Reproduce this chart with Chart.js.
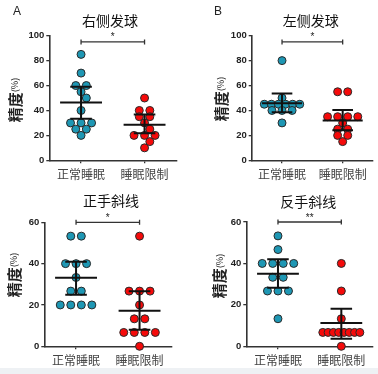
<!DOCTYPE html>
<html>
<head>
<meta charset="utf-8">
<script src="https://cdn.jsdelivr.net/npm/chart.js@4.4.1/dist/chart.umd.min.js"></script>
<style>
  html, body { margin: 0; padding: 0; background: #eef1f4; }
  #wrap  { position: relative; width: 378px; height: 374px; background: #eef1f4; overflow: hidden; }
  #sheet { position: absolute; left: 0; top: 0; width: 378px; height: 368px; background: #ffffff; }
  canvas { position: absolute; }
</style>
</head>
<body>
<div id="wrap">
  <div id="sheet"></div>
  <canvas id="chartA" width="189" height="187" style="left:0px;top:0px"></canvas>
  <canvas id="chartB" width="189" height="187" style="left:189px;top:0px"></canvas>
  <canvas id="chartC" width="189" height="187" style="left:0px;top:187px"></canvas>
  <canvas id="chartD" width="189" height="187" style="left:189px;top:187px"></canvas>
</div>
<script>
// ---------- DATA
var categories   = ['正常睡眠', '睡眠限制'];
var panelTitles  = ['右侧发球', '左侧发球', '正手斜线', '反手斜线'];
var panelLetters = ['A', 'B', '', ''];
var yMaxValues   = [100, 100, 60, 60];
var sigMarks     = ['*', '*', '*', '**'];
var sigLevels    = [95, 95, 60, 60];

// accuracy (%) per subject
var rightServeNormal     = [85, 70, 60, 60, 55, 50, 40, 30, 30, 30, 25, 25, 20];
var rightServeRestricted = [50, 40, 40, 35, 35, 30, 25, 20, 20, 20, 15, 10];
var leftServeNormal      = [80, 50, 45, 45, 45, 45, 45, 45, 40, 40, 40, 30];
var leftServeRestricted  = [55, 55, 35, 35, 35, 35, 30, 25, 25, 20, 20, 15];
var foreCrossNormal      = [53.3, 53.3, 40, 40, 40, 33.3, 26.7, 26.7, 20, 20, 20, 20];
var foreCrossRestricted  = [53.3, 26.7, 26.7, 26.7, 20, 13.3, 13.3, 6.7, 6.7, 6.7, 6.7, 0];
var backCrossNormal      = [53.3, 46.7, 40, 40, 40, 40, 33.3, 33.3, 26.7, 26.7, 26.7, 13.3];
var backCrossRestricted  = [40, 26.7, 13.3, 6.7, 6.7, 6.7, 6.7, 6.7, 6.7, 6.7, 6.7, 0];

// mean and 95% CI bars, per panel
var meanNormal       = [46.3, 45.8, 33.2, 35.0];
var ciLowNormal      = [33.4, 38.5, 25.0, 28.3];
var ciHighNormal     = [59.0, 53.7, 40.9, 42.0];
var meanRestricted   = [28.5, 32.0, 17.2, 11.2];
var ciLowRestricted  = [21.7, 24.2, 8.0, 3.6];
var ciHighRestricted = [36.8, 40.3, 26.6, 18.1];

var normalSets     = [rightServeNormal, leftServeNormal, foreCrossNormal, backCrossNormal];
var restrictedSets = [rightServeRestricted, leftServeRestricted, foreCrossRestricted, backCrossRestricted];

// ---------- LAYOUT per panel
var panelLayout = [
  { id: 'chartA', axisX: 49.3, top: 35.7, xh: 26.7, right: 12.7, title: [110, 21],    ytitle: [15, 100], letter: [17, 12] },
  { id: 'chartB', axisX: 62.7, top: 35.7, xh: 26.7, right: 0,    title: [121.7, 21],  ytitle: [32, 99],  letter: [29, 12] },
  { id: 'chartC', axisX: 44.3, top: 35.3, xh: 27.7, right: 17.7, title: [111, 14],    ytitle: [14, 88],  letter: [0, 0] },
  { id: 'chartD', axisX: 57.3, top: 35.0, xh: 27.7, right: 4.7,  title: [119.3, 15],  ytitle: [30.7, 89], letter: [0, 0] }
];

var BLUE = '#1e97b4';
var RED  = '#f50a0a';
var PLOT_H = 124;      // px height of plot area
var PX_PER_X = 63.3;   // px between the two groups
var ROW_STEP = 10.5;   // spacing of equal values
var ROW_MAX = 37;      // widest row
var HALF = 5.25;
var DOT = 7.4;
var CJK = '"Noto Sans CJK SC", "Noto Sans", sans-serif';
var LAT = '"Liberation Sans", Arial, sans-serif';

// simple beeswarm: equal values make a centred row, single points step aside
function swarmOffsets(values, yPerUnit){
    var placed = [];
    var offs = new Array(values.length);
    var groups = [];
    values.forEach(function(v, i){
        var g = null;
        for (var k = 0; k < groups.length; k++){ if (groups[k].v === v) g = groups[k]; }
        if (!g){ g = { v: v, idx: [] }; groups.push(g); }
        g.idx.push(i);
    });
    groups.sort(function(a, b){ return b.v - a.v; });

    groups.forEach(function(g){
        var n = g.idx.length;
        var y = g.v * yPerUnit;
        var c = 0;
        var base = [];
        if (n > 1){
            var step = Math.min(ROW_STEP, ROW_MAX / (n - 1));
            for (var k = 0; k < n; k++) base.push((k - (n - 1) / 2) * step);
        } else {
            base = [0];
            var cands = [0];
            for (var j = 1; j < 6; j++){ cands.push(j * HALF); cands.push(-j * HALF); }
            for (var ci = 0; ci < cands.length; ci++){
                var ok = placed.every(function(p){ return Math.hypot(p.x - cands[ci], p.y - y) >= DOT; });
                if (ok){ c = cands[ci]; break; }
            }
        }
        base.forEach(function(b, k){
            offs[g.idx[k]] = b + c;
            placed.push({ x: b + c, y: y });
        });
    });
    return offs;
}

function toPoints(values, groupX, yMax){
    var offs = swarmOffsets(values, PLOT_H / yMax);
    return values.map(function(v, i){ return { x: groupX + offs[i] / PX_PER_X, y: v }; });
}

// error bars, bracket, titles
var decorPlugin = {
    id: 'decor',
    afterDatasetsDraw: function(chart, args, opts){
        var i = opts.panel;
        var lay = panelLayout[i];
        var ctx = chart.ctx;
        var xs = chart.scales.x, ys = chart.scales.y;

        ctx.save();
        // MEAN + CI
        var bars = [
            [1, meanNormal[i], ciLowNormal[i], ciHighNormal[i]],
            [2, meanRestricted[i], ciLowRestricted[i], ciHighRestricted[i]]
        ];
        ctx.strokeStyle = '#111';
        ctx.lineWidth = 2;
        bars.forEach(function(b){
            var xm = xs.getPixelForValue(b[0]);
            var halfMean = xs.getPixelForValue(b[0] + 0.33) - xm;
            var halfCap  = xs.getPixelForValue(b[0] + 0.17) - xm;
            var ym = ys.getPixelForValue(b[1]);
            var yl = ys.getPixelForValue(b[2]);
            var yh = ys.getPixelForValue(b[3]);
            ctx.beginPath();
            ctx.moveTo(xm - halfMean, ym); ctx.lineTo(xm + halfMean, ym);
            ctx.moveTo(xm, yl); ctx.lineTo(xm, yh);
            ctx.moveTo(xm - halfCap, yl); ctx.lineTo(xm + halfCap, yl);
            ctx.moveTo(xm - halfCap, yh); ctx.lineTo(xm + halfCap, yh);
            ctx.stroke();
        });

        // SIGNIFICANCE BRACKET
        var x1 = xs.getPixelForValue(1), x2 = xs.getPixelForValue(2);
        var yb = ys.getPixelForValue(sigLevels[i]);
        ctx.strokeStyle = '#333';
        ctx.lineWidth = 1.3;
        ctx.beginPath();
        ctx.moveTo(x1, yb); ctx.lineTo(x2, yb);
        ctx.moveTo(x1, yb - 2.5); ctx.lineTo(x1, yb + 2.5);
        ctx.moveTo(x2, yb - 2.5); ctx.lineTo(x2, yb + 2.5);
        ctx.stroke();
        ctx.fillStyle = '#222';
        ctx.font = '10px ' + LAT;
        ctx.textAlign = 'center';
        ctx.textBaseline = 'alphabetic';
        ctx.fillText(sigMarks[i], (x1 + x2) / 2, yb - 1.5);

        // TITLE
        ctx.fillStyle = '#111';
        ctx.font = '14px ' + CJK;
        ctx.textBaseline = 'middle';
        ctx.fillText(panelTitles[i], lay.title[0], lay.title[1]);

        // PANEL LETTER
        if (panelLetters[i]){
            ctx.font = '12px ' + LAT;
            ctx.fillStyle = '#222';
            ctx.fillText(panelLetters[i], lay.letter[0], lay.letter[1]);
        }

        // Y TITLE  精度(%)
        ctx.translate(lay.ytitle[0], lay.ytitle[1]);
        ctx.rotate(-Math.PI / 2);
        ctx.font = 'bold 15px ' + CJK;
        var w1 = ctx.measureText('精度').width;
        ctx.font = '9px ' + CJK;
        var w2 = ctx.measureText('(%)').width;
        var start = -(w1 + w2) / 2;
        ctx.textAlign = 'left';
        ctx.fillStyle = '#222';
        ctx.font = 'bold 15px ' + CJK;
        ctx.fillText('精度', start, 0);
        ctx.font = '9px ' + CJK;
        ctx.fillText('(%)', start + w1, 0);
        ctx.restore();
    }
};

function makePanel(i){
    var lay = panelLayout[i];
    var yMax = yMaxValues[i];
    var ctx = document.getElementById(lay.id).getContext('2d');

    new Chart(ctx, {
        type: 'scatter',
        data: {
            datasets: [{
                data: toPoints(normalSets[i], 1, yMax),
                pointBackgroundColor: BLUE,
                pointBorderColor: '#2a2a2a',
                pointBorderWidth: 1,
                pointRadius: 4,
                clip: false
            },
            {
                data: toPoints(restrictedSets[i], 2, yMax),
                pointBackgroundColor: RED,
                pointBorderColor: '#2a2a2a',
                pointBorderWidth: 1,
                pointRadius: 4,
                clip: false
            }]
        },
        options: {
            responsive: false,
            animation: false,
            events: [],
            layout: { padding: { top: lay.top, right: lay.right, left: 0, bottom: 0 } },
            plugins: {
                legend: { display: false },
                tooltip: { enabled: false },
                decor: { panel: i }
            },
            scales: {
                x: {
                    type: 'linear',
                    min: 0.5,
                    max: 2.5,
                    afterBuildTicks: function(scale){ scale.ticks = [{ value: 1 }, { value: 2 }]; },
                    afterFit: function(scale){ scale.height = lay.xh; },
                    ticks: {
                        callback: function(v){ return categories[v - 1]; },
                        font: { family: CJK, size: 12 },
                        color: '#444',
                        padding: 4,
                        maxRotation: 0,
                        autoSkip: false
                    },
                    grid: { drawOnChartArea: false, drawTicks: true, tickLength: 3, color: '#333', lineWidth: 1.3 },
                    border: { color: '#333', width: 1.6 }
                },
                y: {
                    min: 0,
                    max: yMax,
                    afterFit: function(scale){ scale.width = lay.axisX; },
                    ticks: {
                        stepSize: 20,
                        font: { family: LAT, size: 9.5, weight: 'bold' },
                        color: '#222',
                        padding: 2
                    },
                    grid: { drawOnChartArea: false, drawTicks: true, tickLength: 3, color: '#333', lineWidth: 1.3 },
                    border: { color: '#333', width: 1.6 }
                }
            }
        },
        plugins: [decorPlugin]
    });
}

for (var p = 0; p < 4; p++){
    makePanel(p);
}
</script>
</body>
</html>
